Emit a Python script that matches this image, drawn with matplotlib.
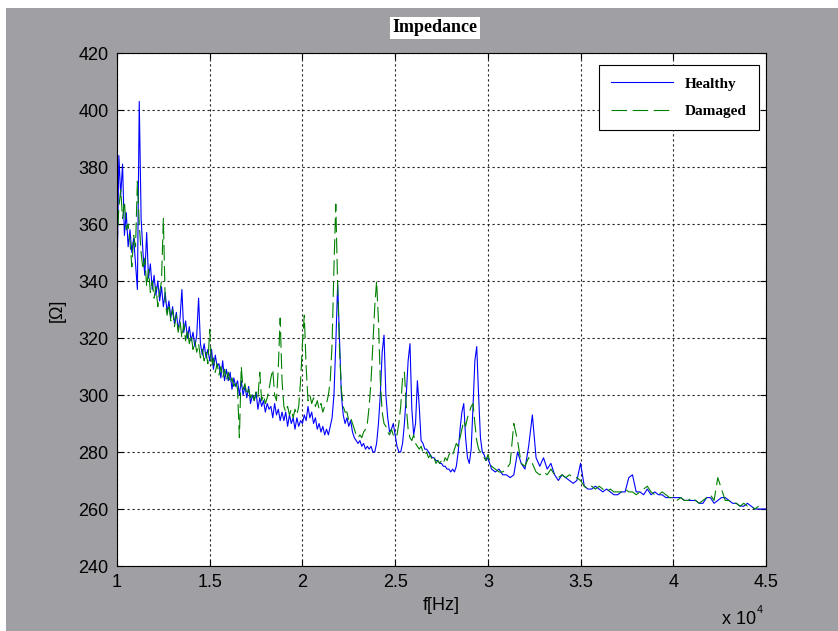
import numpy as np
import matplotlib.pyplot as plt
from matplotlib import font_manager
from matplotlib.patches import Rectangle

# frequency axis in units of 10^4 Hz
f_fine = np.round(np.arange(1.00, 3.005, 0.01), 2)
f_coarse = np.round(np.arange(3.02, 4.505, 0.02), 2)

# impedance [Ohm]
healthy_fine = [
    340, 384, 370, 381, 356, 364, 352, 358, 350, 355,
    346, 337, 403, 362, 350, 342, 357, 341, 346, 337,
    342, 335, 340, 333, 338, 331, 336, 329, 333, 327,
    331, 325, 329, 323, 327, 337, 322, 326, 320, 324,
    319, 322, 317, 321, 334, 318, 314, 318, 313, 316,
    312, 316, 309, 314, 310, 311, 306, 312, 305, 309,
    305, 308, 302, 306, 303, 305, 300, 305, 300, 303,
    299, 303, 297, 300, 298, 301, 295, 299, 296, 298,
    294, 297, 295, 296, 292, 297, 293, 295, 291, 294,
    291, 294, 289, 293, 290, 292, 288, 292, 289, 291,
    290, 293, 291, 296, 292, 294, 290, 292, 288, 290,
    287, 289, 286, 288, 286, 289, 292, 300, 318, 339,
    320, 300, 293, 290, 292, 289, 291, 287, 285, 284,
    283, 284, 282, 283, 281, 282, 281, 282, 280, 280,
    283, 290, 300, 315, 321, 300, 292, 287, 288, 290,
    286, 282, 280, 280, 283, 290, 300, 312, 318, 295,
    286, 290, 305, 296, 284, 283, 281, 281, 280, 279,
    278, 278, 277, 277, 276, 276, 275, 275, 274, 274,
    273, 274, 273, 275, 280, 288, 294, 297, 285, 278,
    276, 281, 296, 312, 317, 300, 285, 280, 279, 277,
    278,
]
healthy_coarse = [
    274, 273, 274, 272, 272, 271, 272, 280, 276, 274,
    282, 293, 278, 275, 278, 274, 276, 272, 270, 272,
    271, 270, 269, 270, 276, 268, 267, 267, 268, 267,
    266, 267, 266, 265, 265, 266, 266, 271, 272, 266,
    266, 265, 267, 265, 266, 265, 265, 264, 264, 264,
    264, 264, 263, 263, 263, 263, 262, 262, 264, 264,
    262, 263, 264, 264, 263, 262, 262, 261, 261, 262,
    261, 260, 260, 260, 260,
]

damaged_fine = [
    352, 366, 372, 362, 368, 358, 360, 354, 345, 356,
    352, 375, 360, 350, 344, 348, 338, 344, 336, 340,
    334, 338, 331, 336, 340, 362, 333, 328, 332, 326,
    330, 324, 328, 322, 326, 320, 325, 319, 323, 318,
    321, 316, 319, 315, 318, 313, 316, 312, 315, 311,
    323, 310, 313, 308, 311, 307, 310, 306, 309, 305,
    308, 304, 306, 303, 305, 302, 285, 310, 302, 304,
    300, 302, 299, 301, 298, 301, 299, 308, 298, 300,
    297, 299, 302, 306, 309, 300, 298, 310, 327, 305,
    296, 294, 296, 293, 295, 292, 295, 293, 296, 305,
    318, 328, 310, 298, 300, 297, 299, 296, 298, 295,
    297, 294, 296, 297, 300, 305, 318, 345, 367, 338,
    316, 302, 296, 294, 294, 291, 292, 290, 288, 286,
    285, 286, 285, 287, 288, 290, 296, 305, 318, 331,
    340, 326, 305, 294, 290, 289, 287, 286, 288, 286,
    285, 286, 290, 296, 306, 308, 296, 288, 285, 284,
    286, 283, 282, 281, 282, 280, 279, 280, 278, 279,
    277, 278, 276, 277, 276, 277, 276, 278, 277, 279,
    280, 279, 281, 283, 282, 285, 288, 291, 289, 292,
    294, 296, 297, 290, 284, 281, 280, 279, 278, 277,
    279,
]
damaged_coarse = [
    275, 274, 273, 273, 274, 276, 290, 284, 276, 275,
    278, 276, 273, 272, 273, 272, 274, 272, 271, 272,
    271, 272, 271, 271, 270, 268, 267, 268, 267, 268,
    267, 266, 267, 266, 266, 266, 267, 266, 266, 265,
    266, 267, 268, 266, 265, 265, 266, 265, 264, 264,
    263, 264, 263, 263, 264, 263, 262, 263, 264, 265,
    263, 271, 267, 263, 263, 262, 262, 261, 262, 261,
    261, 260, 261, np.nan, np.nan,
]

freq = np.concatenate([f_fine, f_coarse])
healthy = np.array(healthy_fine + healthy_coarse, dtype=float)
damaged = np.array(damaged_fine + damaged_coarse, dtype=float)

names = {f.name for f in font_manager.fontManager.ttflist}
sans = 'Liberation Sans Narrow' if 'Liberation Sans Narrow' in names else 'Liberation Sans'
sans_size = 16 if sans == 'Liberation Sans Narrow' else 13

W, H = 838, 631
fig = plt.figure(figsize=(W / 100, H / 100), dpi=100, facecolor='white')
# grey matlab-style window background
fig.patches.append(Rectangle((6 / W, 0), 1, 1 - 8 / H, transform=fig.transFigure,
                             facecolor='#a09fa4', edgecolor='none', zorder=-10))

ax = fig.add_axes([117 / W, 1 - 566 / H, (766 - 117) / W, (566 - 53) / H])
ax.set_facecolor('white')

ax.plot(freq, healthy, color='#0000ff', lw=0.8, label='Healthy')
ax.plot(freq, damaged, color='#008000', lw=0.8, dashes=(14, 5), label='Damaged')

ax.set_xlim(1, 4.5)
ax.set_ylim(240, 420)
ax.set_xticks([1, 1.5, 2, 2.5, 3, 3.5, 4, 4.5])
ax.set_xticklabels(['1', '1.5', '2', '2.5', '3', '3.5', '4', '4.5'])
ax.set_yticks(np.arange(240, 421, 20))

ax.grid(True, color='#222222', linestyle=(0, (2, 2.5)), lw=0.8)
ax.tick_params(direction='in', top=True, right=True, length=4, width=0.8, pad=6)
for lab in ax.get_xticklabels() + ax.get_yticklabels():
    lab.set_family(sans)
    lab.set_fontsize(sans_size)
for sp in ax.spines.values():
    sp.set_linewidth(0.8)
    sp.set_color('black')

fig.text(441 / W, 1 - 606 / H, 'f[Hz]', ha='center', va='center', family=sans, fontsize=sans_size)
fig.text(57 / W, 1 - 310 / H, '[\u03a9]', ha='center', va='center', rotation=90,
         family=sans, fontsize=sans_size)
fig.text(722 / W, 1 - 620 / H, 'x 10', ha='left', va='center', family=sans, fontsize=sans_size)
fig.text(757 / W, 1 - 610 / H, '4', ha='left', va='center', family=sans, fontsize=sans_size * 0.6)

fig.text(435 / W, 1 - 28 / H, 'Impedance', ha='center', va='center', family='Liberation Serif',
         fontweight='bold', fontsize=13,
         bbox=dict(facecolor='white', edgecolor='none', pad=1.5))

leg = ax.legend(loc='upper right', bbox_to_anchor=(0.989, 0.977), borderaxespad=0,
                frameon=True, fancybox=False,
                framealpha=1, edgecolor='black', handlelength=4.0, borderpad=0.8,
                labelspacing=0.9, handletextpad=0.8,
                prop={'family': 'Liberation Serif', 'weight': 'bold', 'size': 11})
leg.get_frame().set_linewidth(0.8)

plt.savefig('out.png', dpi=100, facecolor=fig.get_facecolor())
